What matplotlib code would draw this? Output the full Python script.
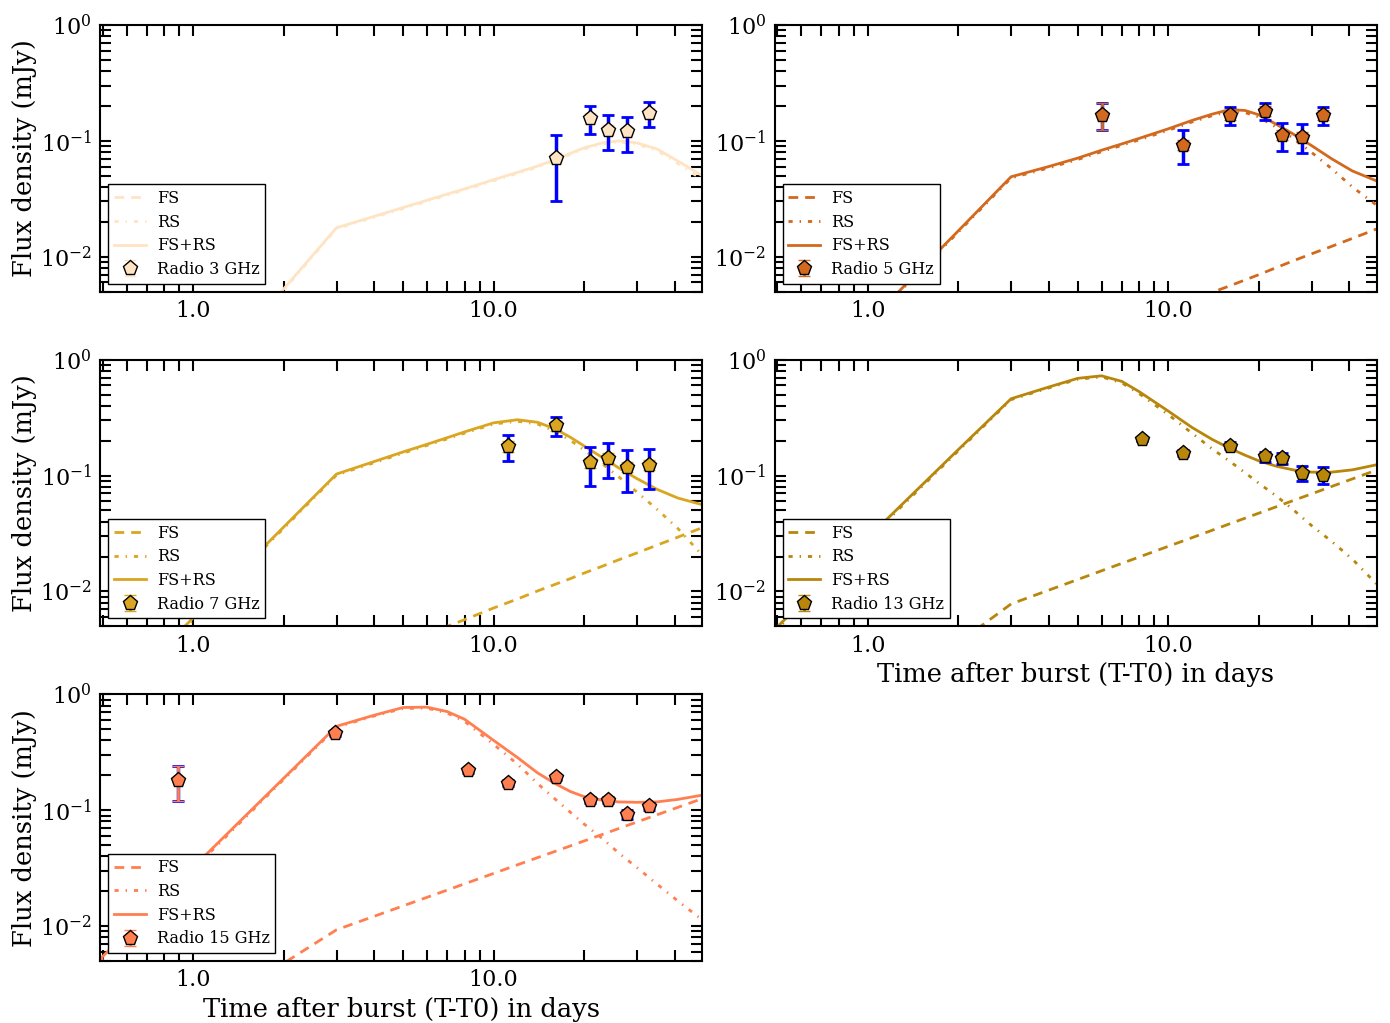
import matplotlib
matplotlib.use("Agg")
import matplotlib.pyplot as plt
from matplotlib.ticker import LogLocator, FormatStrFormatter, NullFormatter, LogFormatterMathtext

plt.rcParams["font.family"] = "DejaVu Serif"
plt.rcParams["mathtext.fontset"] = "dejavuserif"
plt.rcParams["lines.scale_dashes"] = False
plt.rcParams["lines.dashed_pattern"] = [7, 5]
plt.rcParams["lines.dashdot_pattern"] = [3, 5, 1, 5]

# model time grid (days)
T_MOD = [0.49, 1.0, 2.0, 3.0, 4.0, 5.0, 6.0, 7.0, 8.0, 10, 12, 14, 16, 18, 20, 23, 26, 30, 35, 41, 49.5]

# 3 GHz
FS3 = [0.00001, 0.00003, 0.00007, 0.0003, 0.0004, 0.0005, 0.0006, 0.0007, 0.0008, 0.00095, 0.00115,
       0.0013, 0.0015, 0.0017, 0.0019, 0.0021, 0.0024, 0.0027, 0.0031, 0.0036, 0.0043]
RS3 = [0.000076, 0.00065, 0.00516, 0.0175, 0.0219, 0.0261, 0.0301, 0.034, 0.0378, 0.0452, 0.0524,
       0.0593, 0.0677, 0.0765, 0.0853, 0.094, 0.0978, 0.0935, 0.0824, 0.0638, 0.0462]
TOT3 = [0.000078, 0.00066, 0.00527, 0.0178, 0.0223, 0.0266, 0.0307, 0.0347, 0.0385, 0.0462, 0.0535,
        0.0605, 0.069, 0.078, 0.087, 0.096, 0.100, 0.096, 0.085, 0.067, 0.050]
# 5 GHz
FS5 = [0.00002, 0.00008, 0.0003, 0.00106, 0.00141, 0.00176, 0.00211, 0.00246, 0.00282, 0.00352, 0.00423,
       0.00493, 0.0056, 0.0063, 0.0070, 0.0081, 0.0092, 0.0106, 0.0123, 0.0144, 0.0174]
RS5 = [0.00039, 0.0026, 0.0163, 0.0478, 0.0584, 0.069, 0.0807, 0.0913, 0.102, 0.1233, 0.1455,
       0.1648, 0.180, 0.1755, 0.161, 0.130, 0.106, 0.0795, 0.0575, 0.040, 0.0277]
TOT5 = [0.000403, 0.00267, 0.0167, 0.049, 0.060, 0.071, 0.083, 0.094, 0.105, 0.127, 0.150,
        0.170, 0.186, 0.183, 0.168, 0.138, 0.115, 0.091, 0.070, 0.055, 0.045]
# 7 GHz
FS7 = [0.00003, 0.0002, 0.0008, 0.00215, 0.00287, 0.0036, 0.0043, 0.0050, 0.0057, 0.0072, 0.0086,
       0.0101, 0.0115, 0.0129, 0.0144, 0.0165, 0.0187, 0.0215, 0.0251, 0.0294, 0.0355]
RS7 = [0.0009, 0.0057, 0.035, 0.101, 0.129, 0.156, 0.182, 0.207, 0.232, 0.278, 0.294,
       0.278, 0.241, 0.201, 0.166, 0.126, 0.098, 0.072, 0.051, 0.035, 0.0205]
TOT7 = [0.00093, 0.00592, 0.0359, 0.103, 0.132, 0.160, 0.186, 0.212, 0.238, 0.285, 0.303,
        0.288, 0.253, 0.214, 0.180, 0.143, 0.117, 0.094, 0.076, 0.064, 0.056]
# 13 GHz
FS13 = [0.00025, 0.00097, 0.0036, 0.0078, 0.01025, 0.01267, 0.01507, 0.01745, 0.0198, 0.0245, 0.0291,
        0.0337, 0.0383, 0.0428, 0.0473, 0.054, 0.0607, 0.0695, 0.0805, 0.0935, 0.1118]
RS13 = [0.0045, 0.028, 0.163, 0.452, 0.57, 0.677, 0.71, 0.632, 0.51, 0.336, 0.232,
        0.170, 0.133, 0.106, 0.086, 0.066, 0.051, 0.037, 0.027, 0.019, 0.0115]
TOT13 = [0.0047, 0.029, 0.167, 0.46, 0.58, 0.69, 0.725, 0.65, 0.53, 0.36, 0.26,
         0.205, 0.172, 0.150, 0.134, 0.120, 0.112, 0.107, 0.107, 0.112, 0.124]
# 15 GHz
FS15 = [0.00048, 0.00153, 0.00478, 0.0093, 0.01215, 0.01496, 0.01772, 0.02045, 0.02316, 0.0285, 0.0338,
        0.039, 0.0441, 0.0492, 0.0543, 0.0618, 0.0693, 0.0792, 0.0914, 0.1058, 0.126]
RS15 = [0.0050, 0.031, 0.184, 0.52, 0.65, 0.755, 0.76, 0.69, 0.585, 0.37, 0.25,
        0.17, 0.125, 0.096, 0.076, 0.057, 0.043, 0.032, 0.023, 0.0165, 0.0113]
TOT15 = [0.0052, 0.0322, 0.1885, 0.53, 0.66, 0.77, 0.775, 0.71, 0.61, 0.40, 0.285,
         0.21, 0.17, 0.145, 0.131, 0.122, 0.118, 0.117, 0.118, 0.124, 0.135]

# observations: time, flux, error (blue) and error in band colour
T3 = [16.1, 21.0, 24.0, 27.8, 32.8]
F3 = [0.071, 0.157, 0.125, 0.121, 0.175]
EB3 = [0.041, 0.042, 0.042, 0.041, 0.043]
EC3 = [0.007, 0.016, 0.012, 0.012, 0.017]

T5 = [6.0, 11.2, 16.1, 21.0, 24.0, 27.8, 32.8]
F5 = [0.168, 0.093, 0.166, 0.182, 0.112, 0.109, 0.167]
EB5 = [0.043, 0.030, 0.030, 0.030, 0.030, 0.030, 0.030]
EC5 = [0.043, 0.009, 0.016, 0.018, 0.011, 0.011, 0.016]

T7 = [11.2, 16.1, 21.0, 24.0, 27.8, 32.8]
F7 = [0.179, 0.271, 0.130, 0.142, 0.119, 0.124]
EB7 = [0.046, 0.050, 0.048, 0.047, 0.047, 0.047]
EC7 = [0.018, 0.027, 0.013, 0.014, 0.012, 0.012]

T13 = [8.2, 11.2, 16.1, 21.0, 24.0, 27.8, 32.8]
F13 = [0.206, 0.157, 0.181, 0.146, 0.141, 0.106, 0.101]
EB13 = [0.006, 0.010, 0.013, 0.015, 0.015, 0.016, 0.017]
EC13 = [0.006, 0.008, 0.009, 0.008, 0.008, 0.006, 0.006]

T15 = [0.89, 2.96, 8.2, 11.2, 16.1, 21.0, 24.0, 27.8, 32.8]
F15 = [0.181, 0.46, 0.221, 0.171, 0.193, 0.123, 0.123, 0.092, 0.108]
EB15 = [0.060, 0.020, 0.010, 0.010, 0.010, 0.008, 0.008, 0.008, 0.008]
EC15 = [0.060, 0.020, 0.010, 0.008, 0.010, 0.006, 0.006, 0.005, 0.006]

panels = [
    ("3", "bisque", FS3, RS3, TOT3, T3, F3, EB3, EC3),
    ("5", "chocolate", FS5, RS5, TOT5, T5, F5, EB5, EC5),
    ("7", "goldenrod", FS7, RS7, TOT7, T7, F7, EB7, EC7),
    ("13", "darkgoldenrod", FS13, RS13, TOT13, T13, F13, EB13, EC13),
    ("15", "coral", FS15, RS15, TOT15, T15, F15, EB15, EC15),
]

fig, axs = plt.subplots(3, 2, figsize=(13.9, 10.23), dpi=100)
fig.subplots_adjust(left=0.072, right=0.9906, top=0.9756, bottom=0.0606, wspace=0.12, hspace=0.255)
fig.delaxes(axs[2, 1])

for i, (ghz, c, fs, rs, tot, t, f, eb, ec) in enumerate(panels):
    ax = axs[i // 2, i % 2]
    l1, = ax.plot(T_MOD, fs, "--", color=c, lw=2, label="FS")
    l2, = ax.plot(T_MOD, rs, "-.", color=c, lw=2, label="RS")
    l3, = ax.plot(T_MOD, tot, "-", color=c, lw=2, label="FS+RS")
    ax.errorbar(t, f, yerr=eb, fmt="none", ecolor="b", elinewidth=2.5, capsize=4, capthick=2, zorder=3)
    d = ax.errorbar(t, f, yerr=ec, fmt="p", color=c, mec="k", mew=1, ms=11, ecolor=c,
                    elinewidth=2, capsize=4, capthick=1.5, zorder=4, label="Radio %s GHz" % ghz)
    ax.set_xscale("log")
    ax.set_yscale("log")
    ax.set_xlim(0.49, 49.5)
    ax.set_ylim(0.005, 1)
    ax.xaxis.set_major_locator(LogLocator(10))
    ax.xaxis.set_minor_locator(LogLocator(10, subs=range(2, 10)))
    ax.xaxis.set_major_formatter(FormatStrFormatter("%.1f"))
    ax.xaxis.set_minor_formatter(NullFormatter())
    ax.yaxis.set_major_locator(LogLocator(10))
    ax.yaxis.set_minor_locator(LogLocator(10, subs=range(2, 10)))
    ax.yaxis.set_major_formatter(LogFormatterMathtext())
    ax.yaxis.set_minor_formatter(NullFormatter())
    ax.tick_params(which="both", direction="in", top=True, right=True, length=8, width=1.5, labelsize=16)
    ax.tick_params(axis="x", pad=6)
    ax.tick_params(axis="y", pad=6)
    for s in ax.spines.values():
        s.set_linewidth(1.5)
    if i % 2 == 0:
        ax.set_ylabel("Flux density (mJy)", fontsize=18.5, labelpad=2)
    if i >= 3:
        ax.set_xlabel("Time after burst (T-T0) in days", fontsize=18.5, labelpad=4)
    leg = ax.legend([l1, l2, l3, d], ["FS", "RS", "FS+RS", "Radio %s GHz" % ghz], loc="lower left",
                    fontsize=11.5, fancybox=False, framealpha=1, edgecolor="k", labelspacing=0.42,
                    handlelength=2.0, handletextpad=0.7, borderpad=0.35, borderaxespad=0.5)
    leg.get_frame().set_linewidth(1)

fig.savefig("out.png")
